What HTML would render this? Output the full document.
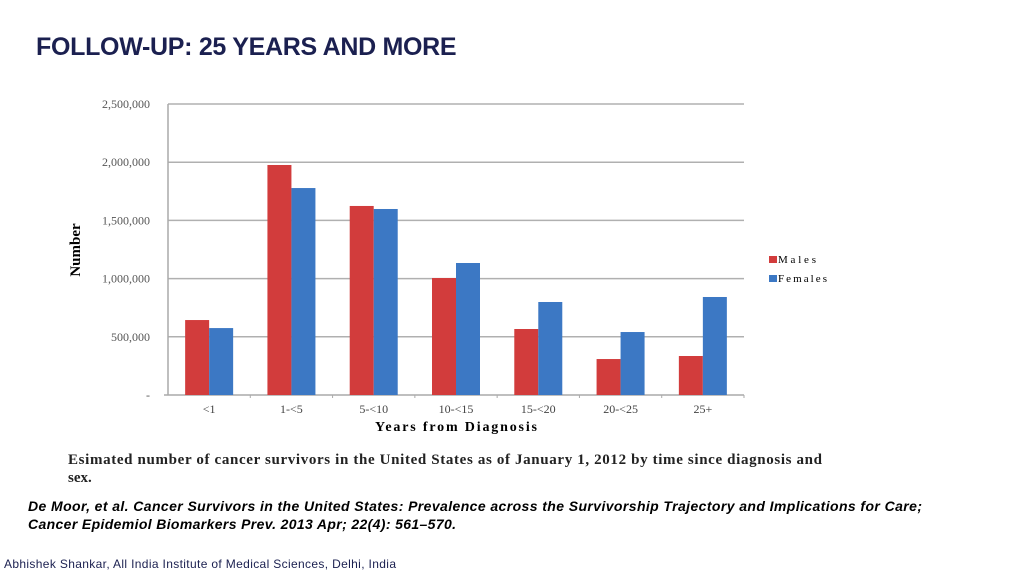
<!DOCTYPE html>
<html><head><meta charset="utf-8"><style>
body{margin:0;width:1024px;height:574px;background:#fff;overflow:hidden;position:relative;font-family:"Liberation Sans",sans-serif}
.t{position:absolute;white-space:nowrap}
</style></head><body>
<div class="t" style="left:36px;top:33px;font-size:25px;font-weight:bold;color:#1b2050;letter-spacing:-0.3px">FOLLOW-UP: 25 YEARS AND MORE</div>
<svg width="1024" height="574" style="position:absolute;left:0;top:0" font-family="Liberation Serif,serif">
<g id="g"></g>
<text transform="translate(80,250) rotate(-90)" text-anchor="middle" font-size="15" font-weight="bold">Number</text>
<text x="375" y="431" font-size="14" font-weight="bold" textLength="162">Years from  Diagnosis</text>
<rect x="769" y="256" width="8" height="7" fill="#d23c3c"/>
<text x="778" y="263" font-size="11" textLength="38">Males</text>
<rect x="769" y="275" width="8" height="7" fill="#3c78c4"/>
<text x="778" y="282" font-size="11" textLength="49">Females</text>
<text x="68" y="464" font-size="15" font-weight="bold" fill="#222" textLength="754">Esimated number of cancer survivors in the United States as of January 1, 2012 by time since diagnosis and</text>
<text x="68" y="482" font-size="15" font-weight="bold" fill="#222">sex.</text>
<text x="28" y="511" font-family="Liberation Sans,sans-serif" font-size="14" font-weight="bold" font-style="italic" textLength="894">De Moor, et al. Cancer Survivors in the United States: Prevalence across the Survivorship Trajectory and Implications for Care;</text>
<text x="28" y="529" font-family="Liberation Sans,sans-serif" font-size="14" font-weight="bold" font-style="italic" textLength="428">Cancer Epidemiol Biomarkers Prev. 2013 Apr; 22(4): 561–570.</text>
<text x="4" y="568" font-family="Liberation Sans,sans-serif" font-size="12" fill="#1b2050" textLength="392">Abhishek Shankar, All India Institute of Medical Sciences, Delhi, India</text>
</svg>
<script>
const categories=["<1","1-<5","5-<10","10-<15","15-<20","20-<25","25+"];
const males=[644000,1976000,1624000,1005000,567000,309000,335000];
const females=[575000,1778000,1598000,1134000,799000,541000,842000];
const yTicks=[0,500000,1000000,1500000,2000000,2500000];
const yTickLabels=["-","500,000","1,000,000","1,500,000","2,000,000","2,500,000"];
const NS="http://www.w3.org/2000/svg",g=document.getElementById('g');
const X0=168,X1=744,Y0=395,Y1=104,YMAX=2500000;
const y=v=>Y0-(v/YMAX)*(Y0-Y1);
const bw=(X1-X0)/categories.length;
const xc=i=>X0+bw*(i+0.5);
function mk(t,a){const e=document.createElementNS(NS,t);for(const k in a)e.setAttribute(k,a[k]);g.appendChild(e);return e;}
yTicks.forEach((v,i)=>{
 if(i>0){const l=mk('line',{x1:X0,x2:X1,y1:y(v),y2:y(v),stroke:'#b0b0b0','stroke-width':1.5});
 
 }
 const t=mk('text',{x:150,y:y(v)+4,'text-anchor':'end','font-size':12,fill:'#555'});t.textContent=yTickLabels[i];
 
 
});
const ax=mk('line',{x1:X0,x2:X0,y1:Y1,y2:Y0,stroke:'#aaa','stroke-width':1.5});


const xa=mk('line',{x1:X0-4,x2:X1,y1:Y0,y2:Y0,stroke:'#aaa','stroke-width':1.5});


categories.forEach((c,i)=>{
 const m=mk('rect',{x:xc(i)-24,y:y(males[i]),width:24,height:Y0-y(males[i]),fill:'#d23c3c'});
 
 
 const f=mk('rect',{x:xc(i),y:y(females[i]),width:24,height:Y0-y(females[i]),fill:'#3c78c4'});
 
 
 const t=mk('text',{x:xc(i),y:413,'text-anchor':'middle','font-size':12,fill:'#444'});t.textContent=c;
 
 
 const tk=mk('line',{x1:X0+bw*(i+1),x2:X0+bw*(i+1),y1:Y0,y2:Y0+3,stroke:'#aaa'});
 
 
});
</script>
</body></html>
